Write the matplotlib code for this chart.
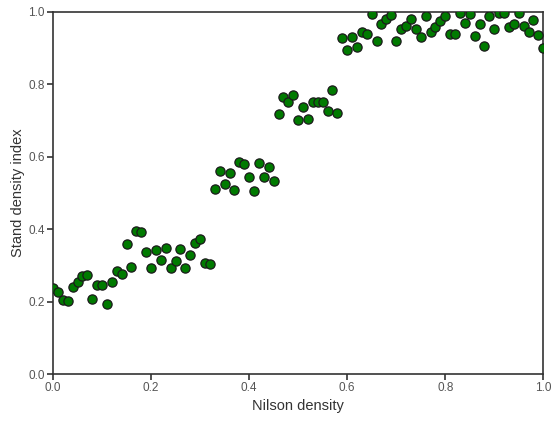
import matplotlib
matplotlib.use("Agg")
import matplotlib.pyplot as plt

# Nilson density (x) and stand density index (y)
nilson = [0.00, 0.01, 0.02, 0.03, 0.04, 0.05, 0.06, 0.07, 0.08, 0.09,
          0.10, 0.11, 0.12, 0.13, 0.14, 0.15, 0.16, 0.17, 0.18, 0.19,
          0.20, 0.21, 0.22, 0.23, 0.24, 0.25, 0.26, 0.27, 0.28, 0.29,
          0.30, 0.31, 0.32, 0.33, 0.34, 0.35, 0.36, 0.37, 0.38, 0.39,
          0.40, 0.41, 0.42, 0.43, 0.44, 0.45, 0.46, 0.47, 0.48, 0.49,
          0.50, 0.51, 0.52, 0.53, 0.54, 0.55, 0.56, 0.57, 0.58, 0.59,
          0.60, 0.61, 0.62, 0.63, 0.64, 0.65, 0.66, 0.67, 0.68, 0.69,
          0.70, 0.71, 0.72, 0.73, 0.74, 0.75, 0.76, 0.77, 0.78, 0.79,
          0.80, 0.81, 0.82, 0.83, 0.84, 0.85, 0.86, 0.87, 0.88, 0.89,
          0.90, 0.91, 0.92, 0.93, 0.94, 0.95, 0.96, 0.97, 0.98, 0.99,
          1.00]
sdi = [0.237, 0.226, 0.204, 0.202, 0.240, 0.255, 0.271, 0.273, 0.207, 0.247,
       0.245, 0.193, 0.253, 0.285, 0.275, 0.359, 0.296, 0.396, 0.392, 0.336,
       0.294, 0.343, 0.315, 0.347, 0.292, 0.313, 0.345, 0.294, 0.329, 0.361,
       0.374, 0.307, 0.304, 0.511, 0.562, 0.526, 0.555, 0.509, 0.585, 0.580,
       0.545, 0.505, 0.584, 0.545, 0.571, 0.534, 0.717, 0.765, 0.752, 0.772,
       0.703, 0.737, 0.704, 0.751, 0.752, 0.750, 0.727, 0.785, 0.722, 0.929,
       0.895, 0.930, 0.903, 0.945, 0.940, 0.994, 0.921, 0.966, 0.980, 0.991,
       0.919, 0.954, 0.960, 0.981, 0.953, 0.931, 0.989, 0.946, 0.959, 0.974,
       0.989, 0.939, 0.938, 0.996, 0.970, 0.994, 0.935, 0.966, 0.906, 0.988,
       0.954, 0.998, 0.996, 0.959, 0.968, 0.997, 0.962, 0.944, 0.977, 0.937,
       0.901]
ticks = [0.0, 0.2, 0.4, 0.6, 0.8, 1.0]

plt.rcParams['font.family'] = ['Liberation Sans', 'DejaVu Sans']

fig = plt.figure(figsize=(5.51, 4.22), dpi=100)
ax = fig.add_axes([0.0962, 0.1137, 0.8898, 0.8579])

ax.scatter(nilson, sdi, s=44, c='#007a00', edgecolors='#1a1a1a',
           linewidths=0.9, zorder=3)

ax.set_xlim(0, 1)
ax.set_ylim(0, 1)
ax.set_xticks(ticks)
ax.set_yticks(ticks)
ax.set_xticklabels([f"{t:.1f}" for t in ticks])
ax.set_yticklabels([f"{t:.1f}" for t in ticks])

for sp in ax.spines.values():
    sp.set_color('#333333')
    sp.set_linewidth(1.2)

ax.tick_params(direction='out', length=4, width=1.2, color='#333333',
               labelsize=8.5, labelcolor='#555555', pad=2)
ax.set_xlabel("Nilson density", fontsize=10.5, color='#333333', labelpad=3)
ax.set_ylabel("Stand density index", fontsize=10.5, color='#333333', labelpad=2)

fig.savefig("out.png", dpi=100)
